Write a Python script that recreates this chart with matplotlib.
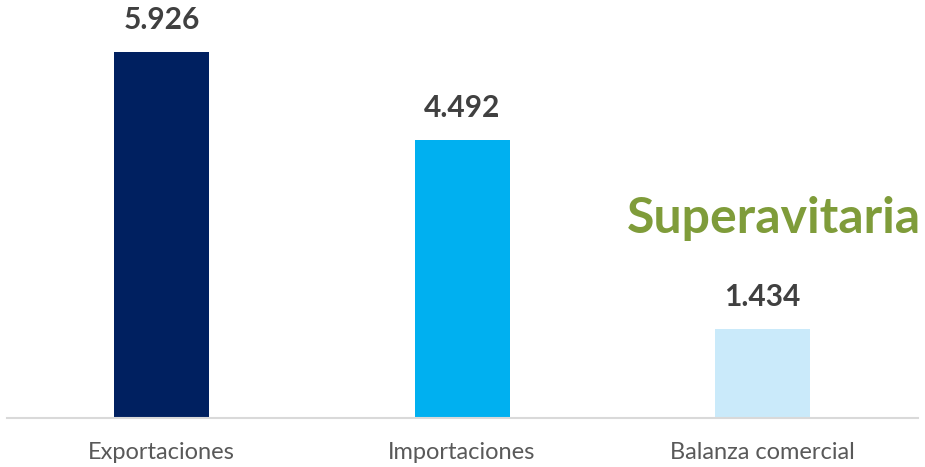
import matplotlib
matplotlib.use("Agg")
import matplotlib.pyplot as plt

categories = ["Exportaciones", "Importaciones", "Balanza comercial"]
values = [5.926, 4.492, 1.434]
value_labels = ["5.926", "4.492", "1.434"]
bar_colors = ["#002060", "#00B0F0", "#CAEAFA"]
note_text = "Superavitaria"

plt.rcParams['font.family'] = ['Lato', 'DejaVu Sans']

fig = plt.figure(figsize=(9.25, 4.67), dpi=100)
ax = fig.add_axes([0.0076, 0.105, 0.9848, 0.895])

x = list(range(len(categories)))
bars = ax.bar(x, values, width=0.316, color=bar_colors, zorder=2)

for xi, v, lab in zip(x, values, value_labels):
    ax.annotate(lab, (xi, v), xytext=(0, 13), textcoords="offset points",
                ha="center", va="bottom", fontsize=21.5, fontweight="bold",
                color="#404040")

ax.text(0.842, 0.4426, note_text, transform=ax.transAxes, ha="center", va="baseline",
        fontsize=36, fontweight="bold", color="#7F9C3A")

ax.set_xlim(-0.514, 2.517)
ax.set_ylim(0, 6.76)
ax.set_xticks(x)
ax.set_xticklabels(categories, fontsize=17, color="#595959")
ax.tick_params(axis="x", length=0, pad=17)
ax.set_yticks([])
for s in ["top", "left", "right"]:
    ax.spines[s].set_visible(False)
ax.spines["bottom"].set_color("#D9D9D9")
ax.spines["bottom"].set_linewidth(1.5)

fig.savefig("out.png", dpi=100)
